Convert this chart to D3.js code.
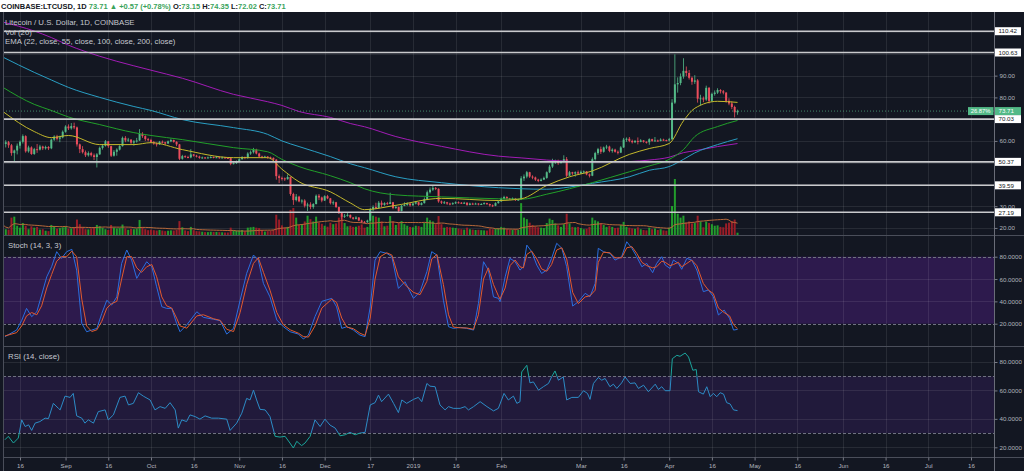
<!DOCTYPE html>
<html><head><meta charset="utf-8">
<script src="https://cdn.jsdelivr.net/npm/d3@7/dist/d3.min.js"></script>
<style>html,body{margin:0;padding:0;background:#131722;overflow:hidden}svg{display:block}text{font-family:"Liberation Sans",Arial,sans-serif}</style>
</head><body>
<svg id="chart" width="1024" height="471"></svg>
<script>
// ---------------- DATA ----------------
const startDate = "2018-08-10";
const firstOpen = 60.2;
const closes = [
58.6,59.4,58.0,54.4,55.6,57.8,59.6,62.2,55.2,57.0,
54.0,56.2,56.0,57.4,56.6,57.2,56.6,60.6,62.0,61.0,
61.6,64.2,66.6,65.8,66.8,66.2,58.4,56.2,54.8,53.4,
54.4,53.4,52.6,53.8,56.8,57.8,59.8,57.6,53.2,55.0,
56.0,57.6,61.4,60.2,60.6,59.2,59.8,60.2,63.2,62.2,
60.8,60.4,59.4,58.8,58.4,59.6,59.4,58.8,59.8,60.4,
59.6,58.4,51.8,53.0,52.6,52.4,53.8,53.2,52.8,52.2,
52.4,52.2,52.4,52.6,52.3,52.5,52.2,52.4,52.2,52.1,
49.4,49.8,50.6,51.6,52.6,52.2,54.2,54.8,56.0,54.2,
52.8,52.4,52.8,52.4,52.2,51.4,43.8,43.0,42.8,42.4,
43.4,35.6,32.8,34.4,32.2,32.6,30.2,30.8,29.6,31.0,
34.8,34.0,32.6,34.6,33.6,31.4,31.8,29.6,26.8,25.2,
25.6,26.0,24.8,24.2,24.8,23.4,22.8,22.6,23.4,28.6,
29.6,29.2,31.6,30.6,31.4,31.0,31.8,29.2,29.6,27.8,
30.2,30.6,31.2,30.4,31.2,31.8,30.6,31.4,33.2,36.4,
37.6,38.4,38.0,32.2,31.6,31.8,31.2,31.0,31.4,31.8,
31.6,31.4,31.6,30.6,31.2,31.0,31.2,30.8,31.0,31.4,
31.0,30.4,30.2,31.4,32.2,33.4,34.2,33.6,33.2,33.6,
32.8,33.0,42.8,43.6,45.6,43.6,43.2,42.2,41.6,42.2,
43.0,45.6,48.2,50.2,50.8,49.8,50.6,51.6,44.0,45.6,
45.0,45.6,45.0,45.8,46.0,44.6,44.0,51.6,54.4,56.2,
55.0,57.0,57.4,55.4,56.0,55.0,54.6,57.0,60.6,61.0,
60.0,59.4,60.0,59.6,60.2,59.6,59.4,60.8,60.0,60.2,
60.0,60.6,60.4,60.2,60.8,77.6,86.0,86.6,89.6,92.2,
91.2,89.0,87.2,87.8,79.4,79.6,79.0,84.4,78.4,81.6,
82.2,83.4,82.8,82.2,78.4,77.2,75.6,73.15,73.71];
const highs = [
61.0,60.3,60.0,58.6,56.0,58.8,60.2,63.0,62.6,57.8,
57.5,56.8,58.6,58.2,57.8,57.8,57.6,61.0,62.6,62.8,
62.4,64.8,67.2,67.6,68.2,68.4,66.6,58.8,57.6,55.6,
55.2,55.0,54.2,54.4,57.4,58.6,60.4,60.0,57.8,55.8,
56.6,58.0,62.0,62.2,61.4,60.8,60.4,61.4,65.4,64.0,
62.6,61.4,61.0,60.0,59.2,60.0,60.2,59.6,60.2,61.0,
60.6,59.8,58.6,53.6,53.4,53.2,56.2,54.0,53.6,53.2,
52.8,52.6,52.8,53.0,52.8,53.0,52.6,52.8,52.6,52.5,
52.3,50.2,51.0,52.0,53.0,52.8,54.8,55.6,56.8,56.4,
54.6,53.2,53.2,53.0,52.8,52.4,51.6,44.6,43.6,43.2,
44.6,43.6,36.2,35.6,34.8,33.2,33.2,31.6,31.8,31.4,
35.4,35.6,34.4,35.0,35.2,33.8,32.6,32.0,29.8,27.0,
26.4,26.8,26.2,25.0,25.4,25.0,23.8,23.2,23.8,29.2,
30.4,31.6,32.4,32.6,31.8,32.0,36.2,32.0,30.4,29.8,
30.6,31.8,31.8,31.4,31.6,32.4,32.0,31.8,34.0,37.2,
38.6,39.6,38.8,38.2,32.6,32.4,32.0,31.6,31.8,32.2,
32.2,31.9,32.0,31.8,31.6,31.6,31.6,31.4,31.4,31.8,
31.6,31.2,30.8,31.8,32.6,34.0,34.8,34.6,33.8,34.0,
33.8,33.4,43.8,44.6,46.2,45.8,44.2,43.6,42.6,42.8,
43.6,46.0,49.0,51.8,51.4,51.4,51.0,53.4,52.6,46.2,
45.8,46.0,46.4,46.4,46.4,46.2,45.0,52.4,55.0,56.8,
57.4,57.4,58.2,57.8,56.6,56.4,55.6,57.6,61.4,61.6,
61.8,60.6,60.4,61.6,60.8,60.4,59.8,61.2,61.0,61.8,
60.6,61.2,61.0,60.6,61.4,79.2,99.8,89.2,91.0,98.0,
94.2,92.6,89.6,90.2,88.4,81.2,80.4,85.4,84.8,82.2,
83.2,84.2,83.8,83.4,82.4,79.6,78.2,76.2,74.35];
const lows = [
57.5,57.0,56.8,53.2,50.4,53.8,56.5,58.8,54.6,54.6,
53.6,53.6,54.5,55.6,55.8,56.0,55.8,56.2,60.0,60.2,
59.4,61.2,63.8,65.0,65.2,65.4,57.4,54.4,54.2,52.6,
52.8,52.8,51.2,47.8,53.6,56.0,57.4,56.8,52.6,52.8,
53.2,55.6,57.4,59.4,59.6,58.6,57.8,59.2,60.0,61.4,
60.0,59.8,59.0,58.2,57.4,58.2,58.8,58.2,58.6,59.4,
59.2,57.6,51.2,51.4,52.2,52.0,52.0,52.8,52.4,51.8,
51.8,51.8,52.0,52.0,52.0,52.1,51.8,52.0,51.9,51.8,
48.8,49.2,49.4,50.4,51.4,51.6,51.8,53.6,54.2,53.8,
52.4,52.0,52.2,51.8,51.6,50.8,42.2,40.6,41.8,41.6,
42.2,34.8,30.6,32.2,31.8,31.2,29.4,27.8,28.6,28.8,
30.8,32.8,31.8,32.4,33.2,30.8,30.6,29.2,26.4,23.8,
24.6,25.2,24.4,23.8,23.9,23.1,22.2,22.2,22.4,23.2,
27.8,28.6,28.8,29.6,30.2,30.6,31.0,28.6,28.8,27.2,
27.6,30.0,30.2,29.8,30.2,30.8,30.2,30.4,31.2,32.8,
35.8,37.0,37.4,31.6,31.0,31.0,30.6,30.4,30.6,31.0,
31.2,31.0,31.0,30.2,30.4,30.6,30.8,30.4,30.6,30.8,
30.6,29.8,29.6,30.0,31.2,32.0,33.0,33.0,32.8,33.0,
32.4,32.6,32.8,41.6,42.8,43.0,42.4,41.6,41.0,41.4,
42.0,42.6,45.2,47.6,49.4,49.0,49.6,50.2,43.4,43.8,
44.4,43.6,44.6,44.8,45.2,44.2,43.2,43.8,51.0,53.6,
54.0,54.6,56.2,54.8,54.6,54.6,53.8,54.4,56.8,59.6,
59.4,58.8,59.0,58.4,59.4,59.2,58.8,58.2,59.6,59.8,
59.6,59.8,60.0,59.8,59.8,60.4,77.0,82.2,85.6,88.6,
89.8,88.2,85.8,86.2,77.6,76.2,77.8,78.4,77.2,77.8,
80.8,81.6,81.8,81.4,77.6,76.4,74.6,70.8,72.02];
const volumes = [
520,300,280,900,950,480,380,620,480,300,
450,380,420,280,300,220,200,520,460,330,
360,400,450,330,340,380,800,560,420,300,
290,340,380,520,460,380,300,260,520,380,
340,360,540,350,270,320,300,330,780,420,
300,250,280,250,230,260,230,200,220,240,
230,260,720,400,240,200,420,250,200,190,
170,150,150,170,160,160,150,140,130,130,
380,240,230,240,260,190,380,400,420,380,
360,260,180,200,220,280,1050,800,500,380,
420,1300,1400,900,520,560,700,1000,820,700,
950,640,580,480,430,640,560,600,900,1000,
620,450,480,420,430,480,550,380,420,1200,
1000,950,900,700,450,480,980,700,520,640,
720,560,480,420,400,480,460,420,640,900,
760,700,560,980,560,380,420,400,380,360,
330,300,280,380,300,280,260,270,250,240,
230,330,300,320,360,420,380,300,280,270,
300,260,1650,900,820,640,520,450,400,380,
360,620,850,780,600,500,420,560,1100,600,
420,400,420,360,300,320,420,900,760,700,
620,520,420,480,420,360,380,520,680,420,
380,340,320,400,300,260,240,380,300,340,
260,300,240,220,380,1500,2900,1100,900,1000,
650,700,600,620,1000,700,400,700,620,560,
480,500,420,400,600,640,720,800,120];

// EMA lines, read at sample days (days after startDate)
const emaDays = [0,11,17,23,34,46,52,63,81,93,98,104,115,122,127,138,154,174,182,191,199,207,220,227,234,239,243,251,258];
const ema22  = [73.5,64.3,61.5,62.5,58.3,58.3,59.2,56.0,52.3,52.3,47.0,41.2,36.6,31.5,28.4,30.4,33.6,32.6,33.4,39.5,43.5,46.2,53.8,56.5,58.8,69.2,75.0,78.2,77.7];
const ema55  = [84.6,76.8,74.0,71.0,67.5,63.8,62.5,60.6,56.9,55.0,51.5,48.2,44.0,40.8,38.0,35.2,34.3,33.4,33.2,35.5,38.0,40.8,45.8,48.5,51.5,56.0,62.0,66.6,69.4];
const ema100 = [98.5,91.5,88.0,84.6,80.0,75.8,74.0,69.8,66.1,63.0,60.0,57.4,52.8,49.5,47.7,43.5,40.8,38.5,38.0,37.8,38.8,40.5,43.5,46.5,48.2,51.5,54.5,58.3,61.0];
const ema200 = [114.6,110.5,107.5,104.0,98.9,94.5,92.5,88.8,81.4,78.0,76.3,73.5,70.8,68.0,66.5,62.0,57.5,53.0,52.2,51.2,50.6,50.4,50.5,51.2,52.5,54.6,55.5,57.4,58.8];

// Stochastic (14,3,3) read at sample days
const stochDays = [0.7,4.8,6.6,8.3,10.1,11.9,13.6,15.4,17.1,18.9,20.6,22.4,24.2,25.9,27.7,29.4,31.2,33,34.7,36.5,38.2,40,41.7,43.5,45.2,47,48.7,50.5,52.3,54,55.8,57.5,59.3,61,62.2,64.6,68.1,70.4,73.9,76.3,78.6,81,83.3,85.6,88,89.7,91.5,93.8,96.2,98.5,100.9,103.8,105.5,107.3,109.6,112,115.5,117.2,119,120.8,123.1,125.4,127.2,129,130.7,132.5,134.8,136.6,138.9,141.2,144.2,146.5,148.9,150.6,152.4,154.7,156.5,158.2,160.6,162.9,165.3,167,168.8,170.5,172.3,174,174.6,176.4,178.1,179.9,181.6,182.8,184,185.7,187.5,189.2,191,192.7,194.5,196.3,198,200.1,202.1,204.5,206.2,208,209.1,210.9,213.2,215,217.3,219.1,220.9,222.6,224.4,226.1,228.2,229.6,231.4,232.6,234.3,235.5,237.2,238.4,240.2,241.9,243.7,246,247.8,249.5,251.3,253.3,255.2,256.6,258];
const stochK = [8.4,14.3,23,33.7,26.3,30.7,45.7,62,71,84.5,78.5,84.5,86.6,68,20.3,12.8,14.3,15.8,29,41,36.7,44,74,86,77,60.6,68,75.5,71,53,35.2,33.7,33.7,20.3,12.8,19,30.7,25.7,24,22.7,10.7,15.8,41,65,81.5,77,56,44,23.3,17.3,12.8,10.7,6.3,9.8,26.3,40,42.7,35,15.8,17.3,14.3,9.8,8.4,35,77,84.5,83,80,51.6,57.6,42.7,48.7,66.6,84.5,81.5,41,17.3,15.8,16.7,15.8,14.3,38,75.5,68,44,42.7,39.7,62,78.5,75.5,68,71,90.4,84.5,72.5,65,68,78.5,92,87.5,71,35.8,39.7,47.2,44.2,56,87.5,84.5,83,77,80,93.4,87.5,80,71,74,65.7,74,80,72.5,69.5,77,74,68.7,78.5,77,68,48.7,50.2,44.2,27.8,32.2,24.8,14.3,14.9];
const stochD = [9,12,18,27,30,28,36,52,64,76,80,80,85,80,42,18,13,14.5,22,34,38,40,60,80,80,70,66,71,73,62,44,36,34,25,18,16,27,28,24.5,23,15,13,30,55,74,79,66,50,30,19,14.5,11.5,8.5,8,18,34,42,39,25,17,15.5,11.5,9.5,25,60,80,83.5,81.5,62,55,48,46,58,78,82,55,28,17,16.3,16.2,15,28,60,70,55,45,42,52,72,77,71,70,82,85,78,69,67,73,86,88,78,48,38,44,45,50,75,84,83.5,79,79,88,89,83,75,72,70,71,76,75,72,73,75,71,74,77,72,56,50,47,34,30,27,19,15.5];

// RSI (14, close) read at sample days
const rsiDays = [0.7,1.9,3.7,5.4,6.6,7.8,9,10.1,11.3,13,14.8,16,17.7,19.5,20.1,21.8,23.6,24.7,25.9,27.7,28.8,30,31.8,33.5,35.9,37,38.8,41.1,42.9,44.1,45.8,47.6,49.3,51.7,53.4,55.2,57,58.7,60.5,61.6,62.8,64.5,65.7,67.5,69.2,71,73.3,75.7,78.6,79.8,82.1,83.9,85.6,86.8,88,89.1,90.3,92.1,93.8,95.6,97.3,99.1,100.8,102,103.2,104.9,106.1,107.9,109.6,111.4,113.1,114.9,116.7,118.4,120.2,121.9,123.7,125.4,127.2,129,130.7,131.9,133,135.4,137.2,138.9,140.1,141.8,144.2,145.9,147.1,148.9,150,151.8,153.5,155.3,156.5,158.2,160.6,162.3,163.5,165.3,167.6,170,172.3,174,176,177.5,179.3,180.5,181.6,182.2,184,185.1,186.3,188.1,189.8,191.6,192.7,193.9,195.1,196.8,198,199.8,202.1,203.9,205.3,206.2,207.4,209.1,210.3,211.5,213.2,214.4,215.6,217.3,218.5,220.3,222,223.2,225,226.7,229.1,230.2,231.4,232.6,234.3,235.1,236.7,237.8,239.6,240.8,242.3,243.5,244.3,246,247.2,248.4,249.5,250.7,251.9,253.1,254.2,255.4,256.6,258];
const rsiVals = [25.3,27.7,23,26.5,39.3,34.6,35.8,31.9,37,38.1,40.5,40.2,50.9,47.4,46.3,56,55.1,57.9,42.1,40.5,37,39.3,37,45.1,46.3,39.3,42.8,55.1,56,49.8,50.9,58.4,56,53.3,46.3,48.6,47.4,51.4,46.3,33.5,39.3,38.1,42.8,41.6,39.8,42.1,40.5,40.5,39.8,31.9,37,44,54.4,53.3,60.2,53.3,46.7,46.3,41.6,27.7,27.2,27.7,23,19.5,24.2,21.2,23,27.7,39.3,34.6,39.8,35.6,33.5,28.1,28.8,30.5,28.8,30,30.5,49.8,51.4,56.7,52.1,57.4,50.9,44.4,53.3,50.9,53.7,55.1,52.1,64.9,63,62.6,49.8,46.3,48.6,47.4,47.4,48.6,46.3,48.6,52.1,48.6,45.6,47.4,57.9,53.3,56,50.9,52.1,73,77.7,65.3,66,60.2,62.6,64.9,69.5,73.7,67.2,69.5,53.3,55.1,55.1,59.8,57.9,53.7,64.9,69.1,67.2,68.4,62.6,64.4,61.4,65.3,69.5,64.9,65.3,61.4,63.7,59.1,64.4,60.7,62.6,59.8,59.8,82.3,84.7,84,86.3,83.5,74.2,74.7,59.1,57.4,62.6,55.6,57.9,55.6,58.4,57.4,51.4,50.5,46.3,45.8];

// ticks & levels
const priceTicks = [20,30,40,50,60,70,80,90,100,110];
const oscTicks = [20,40,60,80];
const levelLines = [110.42,100.63,70.03,50.37,39.59,27.19];
const lastPrice = 73.71;
const lastPctLabel = "26.87%";
const timeTickDates = ["2018-08-16","2018-09-01","2018-09-16","2018-10-01","2018-10-16","2018-11-01","2018-11-16","2018-12-01","2018-12-17","2019-01-01","2019-01-16","2019-02-01","2019-03-01","2019-03-16","2019-04-01","2019-04-16","2019-05-01","2019-05-16","2019-06-01","2019-06-16","2019-07-01","2019-07-16"];
const timeTickLabels = ["16","Sep","16","Oct","16","Nov","16","Dec","17","2019","16","Feb","Mar","16","Apr","16","May","16","Jun","16","Jul","16"];

// ---------------- CHART ----------------
const W = 1024, H = 471;
const BG = "#131722";
const plotL = 3, plotR = 994.5;
const mainT = 12, mainB = 235.5, stT = 235.5, stB = 346.5, rT = 346.5, rB = 457.5;
const parse = d3.utcParse("%Y-%m-%d");
const start = parse(startDate);
const dayDate = i => new Date(start.getTime() + i * 864e5);

const x = d3.scaleUtc().domain([parse("2018-08-16"), parse("2019-07-16")]).range([20, 971]);
const y = d3.scaleLinear().domain([27.19, 110.42]).range([212.3, 31.2]);
const yS = d3.scaleLinear().domain([20, 80]).range([323.7, 256.7]);
const yR = d3.scaleLinear().domain([20, 80]).range([447.3, 362]);
const yV = d3.scaleLinear().domain([0, d3.max(volumes)]).range([235, 179]);

const candles = closes.map((c, i) => ({
  date: dayDate(i), o: i === 0 ? firstOpen : closes[i - 1], h: highs[i], l: lows[i], c, v: volumes[i]
}));
candles.forEach(d => d.up = d.c >= d.o);
const volMA = candles.map((d, i) => ({date: d.date, v: d3.mean(volumes.slice(Math.max(0, i - 19), i + 1))}));

const svg = d3.select("#chart");
svg.append("rect").attr("width", W).attr("height", H).attr("fill", BG);
svg.append("rect").attr("width", W).attr("height", 12).attr("fill", "#ffffff");

const defs = svg.append("defs");
function clip(id, x0, y0, x1, y1) {
  defs.append("clipPath").attr("id", id).append("rect").attr("x", x0).attr("y", y0).attr("width", x1 - x0).attr("height", y1 - y0);
  return `url(#${id})`;
}
const cMain = clip("cm", plotL, mainT, plotR, mainB);
const cSt = clip("cs", plotL, stT, plotR, stB);
const cR = clip("cr", plotL, rT, plotR, rB);
const cRin = clip("cri", plotL, yR(70), plotR, yR(30));
defs.append("clipPath").attr("id", "cro").call(cp => {
  cp.append("rect").attr("x", plotL).attr("y", rT).attr("width", plotR - plotL).attr("height", yR(70) - rT);
  cp.append("rect").attr("x", plotL).attr("y", yR(30)).attr("width", plotR - plotL).attr("height", rB - yR(30));
});

// bands
svg.append("rect").attr("x", plotL).attr("y", yS(80)).attr("width", plotR - plotL).attr("height", yS(20) - yS(80)).attr("fill", "#2d1a4d");
svg.append("rect").attr("x", plotL).attr("y", yR(70)).attr("width", plotR - plotL).attr("height", yR(30) - yR(70)).attr("fill", "#211a3b");

// grid
const grid = svg.append("g").attr("stroke", "rgba(255,255,255,0.085)").attr("stroke-width", 1);
timeTickDates.forEach(s => {
  const gx = Math.round(x(parse(s))) + 0.5;
  grid.append("line").attr("x1", gx).attr("x2", gx).attr("y1", mainT).attr("y2", rB);
});
priceTicks.forEach(p => { const gy = Math.round(y(p)) + 0.5; grid.append("line").attr("x1", plotL).attr("x2", plotR).attr("y1", gy).attr("y2", gy); });
[40, 60].forEach(v => { const gy = Math.round(yS(v)) + 0.5; grid.append("line").attr("x1", plotL).attr("x2", plotR).attr("y1", gy).attr("y2", gy); });
oscTicks.forEach(v => { const gy = Math.round(yR(v)) + 0.5; grid.append("line").attr("x1", plotL).attr("x2", plotR).attr("y1", gy).attr("y2", gy); });

// band edges (dashed)
const dash = svg.append("g").attr("stroke", "#6f7280").attr("stroke-dasharray", "3,2").attr("stroke-width", 1);
[yS(80), yS(20), yR(70), yR(30)].forEach(v => dash.append("line").attr("x1", plotL).attr("x2", plotR).attr("y1", Math.round(v) + 0.5).attr("y2", Math.round(v) + 0.5));

// volume
const gMain = svg.append("g").attr("clip-path", cMain);
gMain.append("g").selectAll("rect").data(candles).join("rect")
  .attr("x", d => x(d.date) - 1).attr("width", 2)
  .attr("y", d => yV(d.v)).attr("height", d => yV(0) - yV(d.v))
  .attr("fill", d => d.up ? "#229c2c" : "#9a1d27");
gMain.append("path").datum(volMA).attr("fill", "none").attr("stroke", "#b8693a").attr("stroke-width", 1)
  .attr("d", d3.line().x(d => x(d.date)).y(d => yV(d.v)));

// candles
const upC = "#53b987", dnC = "#eb4d5c";
gMain.append("g").selectAll("rect").data(candles).join("rect")
  .attr("x", d => x(d.date) - 0.4).attr("width", 0.8)
  .attr("y", d => y(d.h)).attr("height", d => Math.max(0.5, y(d.l) - y(d.h)))
  .attr("fill", d => d.up ? upC : dnC);
gMain.append("g").selectAll("rect").data(candles).join("rect")
  .attr("x", d => x(d.date) - 1).attr("width", 2)
  .attr("y", d => y(Math.max(d.o, d.c))).attr("height", d => Math.max(1, Math.abs(y(d.o) - y(d.c))))
  .attr("fill", d => d.up ? upC : dnC);

// EMAs
const emaLine = d3.line().curve(d3.curveMonotoneX).x(d => x(dayDate(d[0]))).y(d => y(d[1]));
[[ema200, "#a21cb6"], [ema100, "#2a9fc4"], [ema55, "#22a02a"], [ema22, "#c4b92c"]].forEach(([arr, col]) => {
  gMain.append("path").datum(emaDays.map((d, i) => [d, arr[i]])).attr("fill", "none").attr("stroke", col).attr("stroke-width", 1).attr("d", emaLine);
});

// legend
const legend = svg.append("g").attr("fill", "#c5c8d0").attr("font-size", 7.8);
legend.append("text").attr("x", 5).attr("y", 25.3).text("Litecoin / U.S. Dollar, 1D, COINBASE");
legend.append("text").attr("x", 5).attr("y", 34.8).text("Vol (20)");
legend.append("text").attr("x", 5).attr("y", 44.3).text("EMA (22, close, 55, close, 100, close, 200, close)");

// horizontal level lines
const lv = svg.append("g");
levelLines.forEach(p => lv.append("line").attr("x1", plotL).attr("x2", plotR).attr("y1", y(p)).attr("y2", y(p)).attr("stroke", "#c9cacd").attr("stroke-width", 1.6));

// last price dotted line
svg.append("line").attr("x1", plotL).attr("x2", plotR).attr("y1", y(lastPrice)).attr("y2", y(lastPrice))
  .attr("stroke", "#53b987").attr("stroke-opacity", 0.7).attr("stroke-dasharray", "1,2").attr("stroke-width", 1);

// stochastic
const gS = svg.append("g").attr("clip-path", cSt);
const stLine = arr => d3.line().x((d, i) => x(dayDate(stochDays[i]))).y(d => yS(d))(arr);
gS.append("path").attr("d", stLine(stochK)).attr("fill", "none").attr("stroke", "#2b6fe0").attr("stroke-width", 1);
gS.append("path").attr("d", stLine(stochD)).attr("fill", "none").attr("stroke", "#e25a2e").attr("stroke-width", 1);

// RSI
const gR = svg.append("g").attr("clip-path", cR);
const rsiPath = d3.line().x((d, i) => x(dayDate(rsiDays[i]))).y(d => yR(d))(rsiVals);
gR.append("path").attr("d", rsiPath).attr("clip-path", cRin).attr("fill", "none").attr("stroke", "#2d8cc6").attr("stroke-width", 1);
gR.append("path").attr("d", rsiPath).attr("clip-path", "url(#cro)").attr("fill", "none").attr("stroke", "#1ca59d").attr("stroke-width", 1);

svg.append("text").attr("x", 8).attr("y", 248).attr("fill", "#c5c8d0").attr("font-size", 7.8).text("Stoch (14, 3, 3)");
svg.append("text").attr("x", 8).attr("y", 358.5).attr("fill", "#c5c8d0").attr("font-size", 7.8).text("RSI (14, close)");

// separators / borders
const sep = svg.append("g").attr("stroke", "#4a4e5a").attr("stroke-width", 1);
[stT, rT, rB].forEach(v => sep.append("line").attr("x1", plotL).attr("x2", W).attr("y1", v).attr("y2", v));
sep.append("line").attr("x1", plotR).attr("x2", plotR).attr("y1", mainT).attr("y2", H).attr("stroke", "#6a6d78");
sep.append("line").attr("x1", 3.5).attr("x2", 3.5).attr("y1", mainT).attr("y2", H);

// axes
function styleAxis(g) {
  g.select(".domain").remove();
  g.selectAll(".tick line").attr("stroke", "#787b86");
  g.selectAll(".tick text").attr("fill", "#b2b5be").attr("font-size", 6.2).attr("font-family", '"Liberation Sans",Arial,sans-serif');
}
svg.append("g").attr("transform", `translate(${plotR},0)`)
  .call(d3.axisRight(y).tickValues(priceTicks).tickFormat(d3.format(".2f")).tickSize(3).tickPadding(2)).call(styleAxis);
svg.append("g").attr("transform", `translate(${plotR},0)`)
  .call(d3.axisRight(yS).tickValues(oscTicks).tickFormat(d3.format(".4f")).tickSize(3).tickPadding(2)).call(styleAxis);
svg.append("g").attr("transform", `translate(${plotR},0)`)
  .call(d3.axisRight(yR).tickValues(oscTicks).tickFormat(d3.format(".4f")).tickSize(3).tickPadding(2)).call(styleAxis);
svg.append("g").attr("transform", `translate(0,${rB})`)
  .call(d3.axisBottom(x).tickValues(timeTickDates.map(parse)).tickFormat((d, i) => timeTickLabels[i]).tickSize(3).tickPadding(3)).call(styleAxis);

// level labels
levelLines.forEach(p => {
  svg.append("rect").attr("x", 995).attr("y", y(p) - 4).attr("width", 26).attr("height", 8).attr("fill", "#ffffff");
  svg.append("text").attr("x", 998.5).attr("y", y(p) + 2.2).attr("font-size", 6.2).attr("fill", "#131722").text(p.toFixed(2));
});
// last price labels
svg.append("rect").attr("x", 968).attr("y", y(lastPrice) - 4).attr("width", 25.5).attr("height", 8).attr("fill", "#53b987");
svg.append("text").attr("x", 980.5).attr("y", y(lastPrice) + 2.2).attr("text-anchor", "middle").attr("font-size", 5.8).attr("fill", "#ffffff").text(lastPctLabel);
svg.append("rect").attr("x", 995).attr("y", y(lastPrice) - 4).attr("width", 26).attr("height", 8).attr("fill", "#53b987");
svg.append("text").attr("x", 998.5).attr("y", y(lastPrice) + 2.2).attr("font-size", 6.2).attr("fill", "#ffffff").text(lastPrice.toFixed(2));

// header
const G = "#3aa35b", K = "#131722";
const hdrParts = [["COINBASE:LTCUSD, 1D ", K], ["73.71 ", G], ["▲ ", G], ["+0.57 (+0.78%) ", G], ["O:", K], ["73.15 ", G], ["H:", K], ["74.35 ", G], ["L:", K], ["72.02 ", G], ["C:", K], ["73.71", G]];
const hdr = svg.append("text").attr("x", 1).attr("y", 8.5).attr("font-size", 7.5).attr("font-weight", "bold").style("white-space", "pre");
hdrParts.forEach(([t, c]) => hdr.append("tspan").attr("fill", c).text(t));
</script>
</body></html>
